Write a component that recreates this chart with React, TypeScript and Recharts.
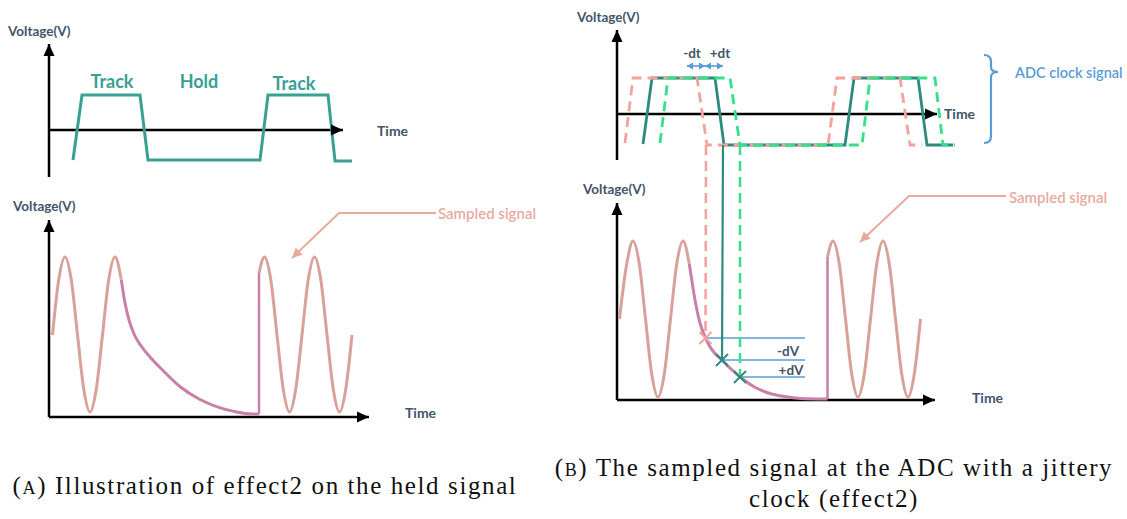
import { LineChart, Line, XAxis, YAxis, ReferenceLine, ReferenceDot } from 'recharts'

// units: t = time (1 unit per 5px), v = voltage (1 unit per 20px)

// panel A, clock (track / hold)
const clockA = [
  { t: 4.8, v: -1.5 }, { t: 6.6, v: 1.75 }, { t: 18.2, v: 1.75 }, { t: 19.8, v: -1.5 },
  { t: 42.2, v: -1.5 }, { t: 43.8, v: 1.75 }, { t: 55.8, v: 1.75 }, { t: 57.2, v: -1.55 }, { t: 60.6, v: -1.55 },
]
const phaseLabelsA = [
  { t: 12.6, v: 2.45, text: 'Track' },
  { t: 30, v: 2.45, text: 'Hold' },
  { t: 49, v: 2.35, text: 'Track' },
]

// panel A, held signal
const sineA1 = [
  { t: 0.7, v: 4.1 }, { t: 1.95, v: 6.87 }, { t: 3.2, v: 8 }, { t: 4.45, v: 6.87 }, { t: 5.7, v: 4.1 },
  { t: 6.95, v: 1.39 }, { t: 8.2, v: 0.25 }, { t: 9.45, v: 1.39 }, { t: 10.7, v: 4.1 }, { t: 11.95, v: 6.87 },
  { t: 13.2, v: 8 }, { t: 14.45, v: 6.87 },
]
const decayA = [
  { t: 14.45, v: 6.87 }, { t: 15.2, v: 5.7 }, { t: 16, v: 4.85 }, { t: 17, v: 4.15 }, { t: 18.3, v: 3.6 },
  { t: 20.2, v: 3.0 }, { t: 22.7, v: 2.35 }, { t: 26.3, v: 1.5 }, { t: 30, v: 0.9 }, { t: 33.5, v: 0.52 },
  { t: 37, v: 0.28 }, { t: 40.7, v: 0.15 }, { t: 42, v: 0.15 },
]
const jumpA = [{ t: 42, v: 0.15 }, { t: 42, v: 7.2 }]
const sineA2 = [
  { t: 42, v: 7.2 }, { t: 43.1, v: 8 }, { t: 44.35, v: 6.87 }, { t: 45.6, v: 4.1 }, { t: 46.85, v: 1.39 },
  { t: 48.1, v: 0.25 }, { t: 49.35, v: 1.39 }, { t: 50.6, v: 4.1 }, { t: 51.85, v: 6.87 }, { t: 53.1, v: 8 },
  { t: 54.35, v: 6.87 }, { t: 55.6, v: 4.1 }, { t: 56.85, v: 1.39 }, { t: 58.1, v: 0.25 }, { t: 59.35, v: 1.39 },
  { t: 60.6, v: 4.1 },
]
const pointerA = [{ t: 77.4, v: 10.2 }, { t: 58, v: 10.2 }, { t: 48.6, v: 7.95 }]

// panel B, jittery clock
const clockB = [
  { t: 5.2, v: -1.5 }, { t: 7, v: 1.8 }, { t: 19.6, v: 1.8 }, { t: 21.4, v: -1.55 }, { t: 45.6, v: -1.55 },
  { t: 47.4, v: 1.8 }, { t: 60.2, v: 1.8 }, { t: 62, v: -1.55 }, { t: 67.2, v: -1.55 },
]
const clockEarly = [
  { t: 1.6, v: -1.45 }, { t: 3.2, v: 1.8 }, { t: 16, v: 1.8 }, { t: 18, v: -1.55 }, { t: 42.2, v: -1.55 },
  { t: 44, v: 1.8 }, { t: 56.6, v: 1.8 }, { t: 58.6, v: -1.55 }, { t: 61, v: -1.55 },
]
const clockLate = [
  { t: 8.6, v: -1.45 }, { t: 10.2, v: 1.8 }, { t: 22.6, v: 1.8 }, { t: 24.6, v: -1.55 }, { t: 49, v: -1.55 },
  { t: 50.6, v: 1.8 }, { t: 63.6, v: 1.8 }, { t: 65.2, v: -1.55 }, { t: 67.6, v: -1.55 },
]
const dtArrows = [
  [{ t: 14, v: 2.4 }, { t: 17.6, v: 2.4 }],
  [{ t: 17.6, v: 2.4 }, { t: 21.2, v: 2.4 }],
]
const dtLabels = [
  { t: 15, v: 3.05, text: '-dt' },
  { t: 20.6, v: 3.05, text: '+dt' },
]

// panel B, sampled signal
const sineB1 = [
  { t: 0.5, v: 4.05 }, { t: 1.95, v: 6.81 }, { t: 3.2, v: 7.95 }, { t: 4.45, v: 6.81 }, { t: 5.7, v: 4.05 },
  { t: 6.95, v: 1.29 }, { t: 8.2, v: 0.15 }, { t: 9.45, v: 1.29 }, { t: 10.7, v: 4.05 }, { t: 11.95, v: 6.81 },
  { t: 13.2, v: 7.95 }, { t: 14.45, v: 6.81 },
]
const decayB = [
  { t: 14.45, v: 6.81 }, { t: 15.2, v: 5.6 }, { t: 15.9, v: 4.6 }, { t: 16.6, v: 3.85 }, { t: 17.7, v: 3.1 },
  { t: 18.5, v: 2.7 }, { t: 19.5, v: 2.35 }, { t: 21, v: 2.0 }, { t: 22.8, v: 1.55 }, { t: 24.6, v: 1.15 },
  { t: 27.5, v: 0.65 }, { t: 30.3, v: 0.35 }, { t: 33.5, v: 0.17 }, { t: 36.8, v: 0.08 }, { t: 42.1, v: 0.05 },
]
const jumpB = [{ t: 42.1, v: 0.05 }, { t: 42.1, v: 7.15 }]
const sineB2 = [
  { t: 42.1, v: 7.15 }, { t: 43.2, v: 7.95 }, { t: 44.45, v: 6.81 }, { t: 45.7, v: 4.05 }, { t: 46.95, v: 1.29 },
  { t: 48.2, v: 0.15 }, { t: 49.45, v: 1.29 }, { t: 50.7, v: 4.05 }, { t: 51.95, v: 6.81 }, { t: 53.2, v: 7.95 },
  { t: 54.45, v: 6.81 }, { t: 55.7, v: 4.05 }, { t: 56.95, v: 1.29 }, { t: 58.2, v: 0.15 }, { t: 59.45, v: 1.29 },
  { t: 60.7, v: 4.05 },
]
const sampleEarly = [{ t: 17.8, v: 12.75 }, { t: 17.7, v: 3.1 }]
const sampleMid = [{ t: 21.2, v: 12.75 }, { t: 21, v: 2.0 }]
const sampleLate = [{ t: 24.6, v: 12.75 }, { t: 24.6, v: 1.15 }]
const dvLines = [
  [{ t: 17.4, v: 3.1 }, { t: 37.6, v: 3.1 }],
  [{ t: 20.8, v: 2.0 }, { t: 37.6, v: 2.0 }],
  [{ t: 24.2, v: 1.15 }, { t: 37.6, v: 1.15 }],
]
const dvLabels = [
  { t: 34.2, v: 2.45, text: '-dV' },
  { t: 34.8, v: 1.5, text: '+dV' },
]
const pointerB = [{ t: 77.8, v: 10.2 }, { t: 58.4, v: 10.2 }, { t: 48.6, v: 7.9 }]

const DARK = '#44546a'
const TEAL = '#38a193'
const TEAL_DARK = '#2e8b7f'
const PINK = '#f6a19b'
const GREEN = '#36e08a'
const SINE = '#d8a19a'
const HELD = '#c97fa7'
const BLUE = '#5b9bd5'
const NOTE = '#e8aa9f'
const SANS = 'Lato, "Open Sans", sans-serif'

const textShape = (text: string, color: string, size: number, anchor = 'start', weight = 700) =>
  (p: any) => (
    <text x={p.cx} y={p.cy} dominantBaseline="central" textAnchor={anchor} fill={color}
      fontSize={size} fontWeight={weight} fontFamily={SANS}>{text}</text>
  )

const headShape = (angle: number, color: string, len = 12, half = 5.5) =>
  (p: any) => (
    <polygon points={`0,0 ${-len},${-half} ${-len},${half}`} fill={color}
      transform={`translate(${p.cx},${p.cy}) rotate(${angle})`} />
  )

const crossShape = (color: string) => (p: any) => (
  <g stroke={color} strokeWidth={2} transform={`translate(${p.cx},${p.cy})`}>
    <line x1={-6} y1={-6} x2={6} y2={6} />
    <line x1={-6} y1={6} x2={6} y2={-6} />
  </g>
)

const braceShape = (p: any) => (
  <path transform={`translate(${p.cx},${p.cy})`} fill="none" stroke={BLUE} strokeWidth={2.2}
    d="M -14 -17 Q -7 -17 -7 -10 L -7 -5 Q -7 0 0 0 Q -7 0 -7 5 L -7 64 Q -7 71 -14 71" />
)

function dot(key: string, t: number, v: number, shape: any) {
  return <ReferenceDot key={key} x={t} y={v} r={1} shape={shape} ifOverflow="visible" />
}

function line(key: string, data: any[], color: string, width: number, opts: any = {}) {
  return (
    <Line key={key} data={data} dataKey="v" type={opts.type ?? 'linear'} stroke={color} strokeWidth={width}
      strokeDasharray={opts.dash} dot={false} activeDot={false} isAnimationActive={false} />
  )
}

function axes(yLow: number, yHigh: number, xHigh: number) {
  return [
    <ReferenceLine key="ay" segment={[{ x: 0, y: yLow }, { x: 0, y: yHigh }]} stroke="#000" strokeWidth={2.5} ifOverflow="visible" />,
    <ReferenceLine key="ax" segment={[{ x: 0, y: 0 }, { x: xHigh, y: 0 }]} stroke="#000" strokeWidth={2.5} ifOverflow="visible" />,
    dot('hy', 0, yHigh, headShape(-90, '#000')),
    dot('hx', xHigh, 0, headShape(0, '#000')),
  ]
}

function Panel({ left, top, width, height, tDomain, vDomain, children }: any) {
  return (
    <div style={{ position: 'absolute', left, top }}>
      <LineChart width={width} height={height} margin={{ top: 0, right: 0, bottom: 0, left: 0 }}>
        <XAxis type="number" dataKey="t" domain={tDomain} hide allowDataOverflow />
        <YAxis type="number" domain={vDomain} hide allowDataOverflow />
        {children}
      </LineChart>
    </div>
  )
}

export default function App() {
  const caption = {
    position: 'absolute' as const,
    textAlign: 'center' as const,
    fontFamily: '"Liberation Serif", "DejaVu Serif", serif',
    fontSize: 25,
    letterSpacing: '1.6px',
    color: '#111',
  }
  return (
    <div style={{ position: 'fixed', left: 0, top: 0, width: 1127, height: 519, background: '#fff', overflow: 'hidden' }}>
      <Panel left={0} top={0} width={560} height={195} tDomain={[-9.8, 102.2]} vDomain={[-3.25, 6.5]}>
        {axes(-2.35, 4.3, 58.8)}
        {line('clk', clockA, TEAL, 3)}
        {phaseLabelsA.map((l, i) => dot('p' + i, l.t, l.v, textShape(l.text, TEAL, 18, 'middle')))}
        {dot('vl', -8.2, 4.95, textShape('Voltage(V)', DARK, 13.5))}
        {dot('tl', 65.6, 0, textShape('Time', DARK, 14))}
      </Panel>

      <Panel left={0} top={190} width={560} height={250} tDomain={[-9.8, 102.2]} vDomain={[-1.15, 11.35]}>
        {axes(0, 9.85, 64)}
        {line('s1', sineA1, SINE, 3, { type: 'monotone' })}
        {line('s2', sineA2, SINE, 3, { type: 'monotone' })}
        {line('d', decayA, HELD, 3, { type: 'monotone' })}
        {line('j', jumpA, HELD, 2.5)}
        {line('ptr', pointerA, NOTE, 2)}
        {dot('ph', pointerA[2].t, pointerA[2].v, headShape(136, NOTE, 10, 5))}
        {dot('sl', 77.8, 10.2, textShape('Sampled signal', NOTE, 15, 'start', 600))}
        {dot('vl', -7.2, 10.55, textShape('Voltage(V)', DARK, 13.5))}
        {dot('tl', 71.2, 0.25, textShape('Time', DARK, 14))}
      </Panel>

      <Panel left={560} top={0} width={567} height={170} tDomain={[-11.4, 102]} vDomain={[-2.8, 5.7]}>
        {axes(-2.3, 4.2, 64)}
        {line('clk', clockB, TEAL_DARK, 2.8)}
        {line('early', clockEarly, PINK, 2.8, { dash: '10 6' })}
        {line('late', clockLate, GREEN, 2.8, { dash: '10 6' })}
        {dtArrows.map((seg, i) => line('dt' + i, seg, BLUE, 1.6))}
        {dtArrows.flatMap((seg, i) => [
          dot('dta' + i, seg[0].t, seg[0].v, headShape(180, BLUE, 6, 3.5)),
          dot('dtb' + i, seg[1].t, seg[1].v, headShape(0, BLUE, 6, 3.5)),
        ])}
        {dtLabels.map((l, i) => dot('dl' + i, l.t, l.v, textShape(l.text, DARK, 13.5, 'middle')))}
        {dot('brace', 76.2, 2.1, braceShape)}
        {dot('adc', 79.6, 2.1, textShape('ADC clock signal', BLUE, 14.5, 'start', 600))}
        {dot('vl', -8, 4.85, textShape('Voltage(V)', DARK, 13.5))}
        {dot('tl', 65.4, 0.05, textShape('Time', DARK, 14))}
      </Panel>

      <Panel left={560} top={0} width={567} height={420} tDomain={[-11.4, 102]} vDomain={[-1, 20]}>
        {axes(0, 9.85, 63.6)}
        {line('s1', sineB1, SINE, 3, { type: 'monotone' })}
        {line('s2', sineB2, SINE, 3, { type: 'monotone' })}
        {line('d', decayB, HELD, 3, { type: 'monotone' })}
        {line('j', jumpB, HELD, 2.5)}
        {dvLines.map((seg, i) => line('dv' + i, seg, BLUE, 1.6))}
        {line('ve', sampleEarly, PINK, 2.5, { dash: '10 6' })}
        {line('vm', sampleMid, TEAL_DARK, 2.2)}
        {line('vlate', sampleLate, GREEN, 2.5, { dash: '10 6' })}
        {dot('c1', 17.7, 3.1, crossShape(PINK))}
        {dot('c2', 21, 2.0, crossShape(TEAL_DARK))}
        {dot('c3', 24.6, 1.15, crossShape(TEAL_DARK))}
        {dvLabels.map((l, i) => dot('dvl' + i, l.t, l.v, textShape(l.text, DARK, 13.5, 'middle')))}
        {line('ptr', pointerB, NOTE, 2)}
        {dot('ph', pointerB[2].t, pointerB[2].v, headShape(136, NOTE, 10, 5))}
        {dot('sl', 78.4, 10.15, textShape('Sampled signal', NOTE, 15, 'start', 600))}
        {dot('vl', -6.8, 10.55, textShape('Voltage(V)', DARK, 13.5))}
        {dot('tl', 71, 0.15, textShape('Time', DARK, 14))}
      </Panel>

      <div style={{ ...caption, left: 0, top: 471, width: 530, lineHeight: '30px' }}>
        (<span style={{ fontVariant: 'small-caps' }}>a</span>) Illustration of effect2 on the held signal
      </div>
      <div style={{ ...caption, left: 545, top: 452, width: 578, lineHeight: '31px' }}>
        (<span style={{ fontVariant: 'small-caps' }}>b</span>) The sampled signal at the ADC with a jittery<br />clock (effect2)
      </div>
    </div>
  )
}
